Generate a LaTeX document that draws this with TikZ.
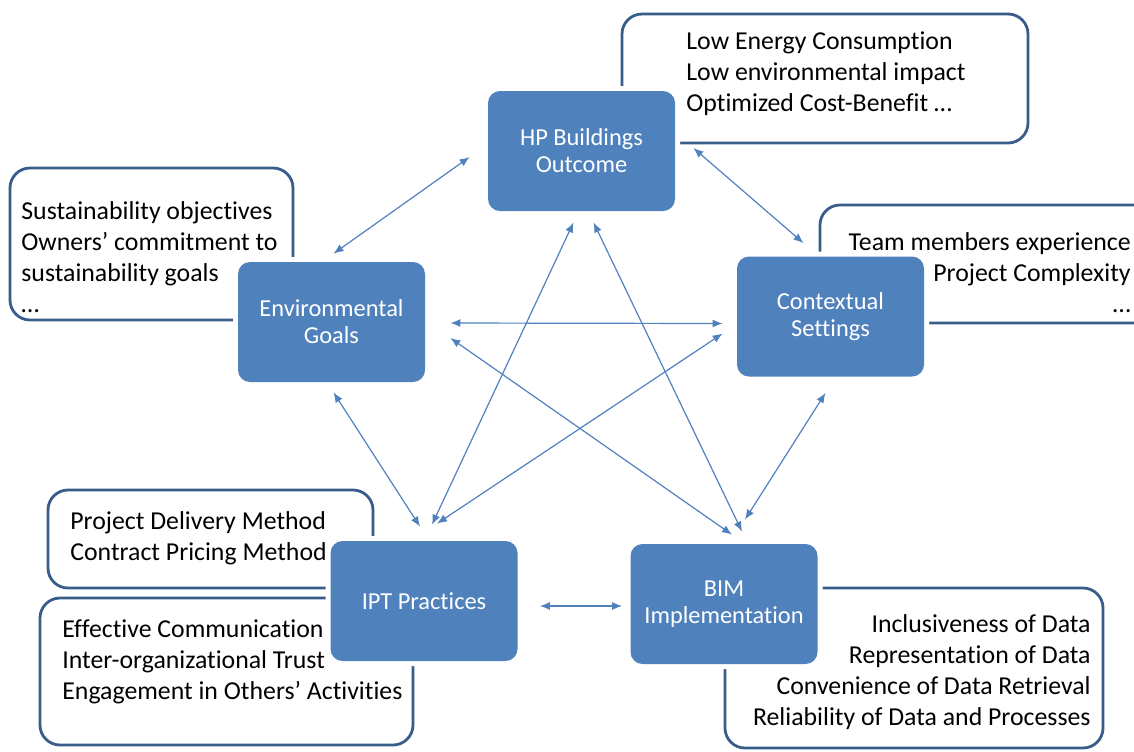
\documentclass[tikz,border=0pt]{standalone}
\usepackage{fontspec}
\setmainfont{Carlito}[Ligatures=NoCommon]
\usetikzlibrary{arrows.meta}
\definecolor{boxblue}{RGB}{79,129,189}
\definecolor{noteblue}{RGB}{56,93,138}
\definecolor{linkblue}{RGB}{79,129,189}

\begin{document}
\begin{tikzpicture}[
  x=0.5pt, y=-0.5pt,
  factor/.style={fill=boxblue, rounded corners=6pt, minimum width=93.5pt, minimum height=60pt, align=center, text=white, font=\fontsize{12.2}{13.4}\selectfont, preaction={draw=white, line width=5pt}},
  note/.style={draw=noteblue, line width=1.4pt, rounded corners=10pt, fill=white},
  notetext/.style={inner sep=0pt, font=\fontsize{12.9}{15.5}\selectfont},
  link/.style={draw=linkblue, line width=0.6pt, <->},
  >={Latex[length=5pt,width=4pt]}
]
\useasboundingbox (0,0) rectangle (1134,751);
\clip (0,0) rectangle (1134,751);

% Callouts behind the factors
\node[note, minimum width=203pt, minimum height=64.5pt] (hpnote) at (825,78.5) {};
\node[note, minimum width=141.5pt, minimum height=76pt] (envnote) at (151.5,244) {};
\node[note, minimum width=170pt, minimum height=59pt] (ctxnote) at (990,264) {};
\node[note, minimum width=162.5pt, minimum height=49pt] (iptnote) at (210.5,539) {};
\node[note, minimum width=186.5pt, minimum height=73.5pt] (iptnoteb) at (226.5,671.5) {};
\node[note, minimum width=189pt, minimum height=80pt] (bimnote) at (914,668) {};

\node[notetext, anchor=west, align=left] (hptext) at (686,74) {Low Energy Consumption\\Low environmental impact\\Optimized Cost-Benefit …};
\node[notetext, anchor=west, align=left] (envtext) at (21,257) {Sustainability objectives\\Owners’ commitment to\\sustainability goals\\…};
\node[notetext, anchor=east, align=right] (ctxtext) at (1131,273) {Team members experience\\Project Complexity\\…};
\node[notetext, anchor=west, align=left] (ipttext) at (70,538) {Project Delivery Method\\Contract Pricing Method};
\node[notetext, anchor=west, align=left] (ipttextb) at (62,662) {Effective Communication\\Inter-organizational Trust\\Engagement in Others’ Activities};
\node[notetext, anchor=east, align=right] (bimtext) at (1091,672) {Inclusiveness of Data\\Representation of Data\\Convenience of Data Retrieval\\Reliability of Data and Processes};

% Factors
\node[factor] (hp) at (581.5,151) {HP Buildings\\Outcome};
\node[factor] (env) at (331.5,322) {Environmental\\Goals};
\node[factor] (ctx) at (830.5,316.5) {Contextual\\Settings};
\node[factor] (ipt) at (424,601) {IPT Practices};
\node[factor] (bim) at (724,604) {BIM\\Implementation};

% Links
\draw[link] ([shift={(-18,6)}]hp.west) -- ([shift={(2,-8)}]env.north);
\draw[link] ([shift={(18,-3)}]hp.east) -- ([shift={(-27,-13)}]ctx.north);
\draw[link] ([shift={(25,1)}]env.east) -- ([shift={(-14,7)}]ctx.west);
\draw[link] ([shift={(2,10)}]env.south) -- ([shift={(-4,-14)}]ipt.north);
\draw[link] ([shift={(25,16)}]env.east) -- ([shift={(8,-9)}]bim.north);
\draw[link] ([shift={(-8,11)}]hp.south) -- ([shift={(8,-16)}]ipt.north);
\draw[link] ([shift={(12,11)}]hp.south) -- ([shift={(18,-12)}]bim.north);
\draw[link] ([shift={(-14,17)}]ctx.west) -- ([shift={(13,-17)}]ipt.north);
\draw[link] ([shift={(-5,16)}]ctx.south) -- ([shift={(21,-24)}]bim.north);
\draw[link] ([shift={(22,5)}]ipt.east) -- ([shift={(-8,2)}]bim.west);

\end{tikzpicture}
\end{document}
